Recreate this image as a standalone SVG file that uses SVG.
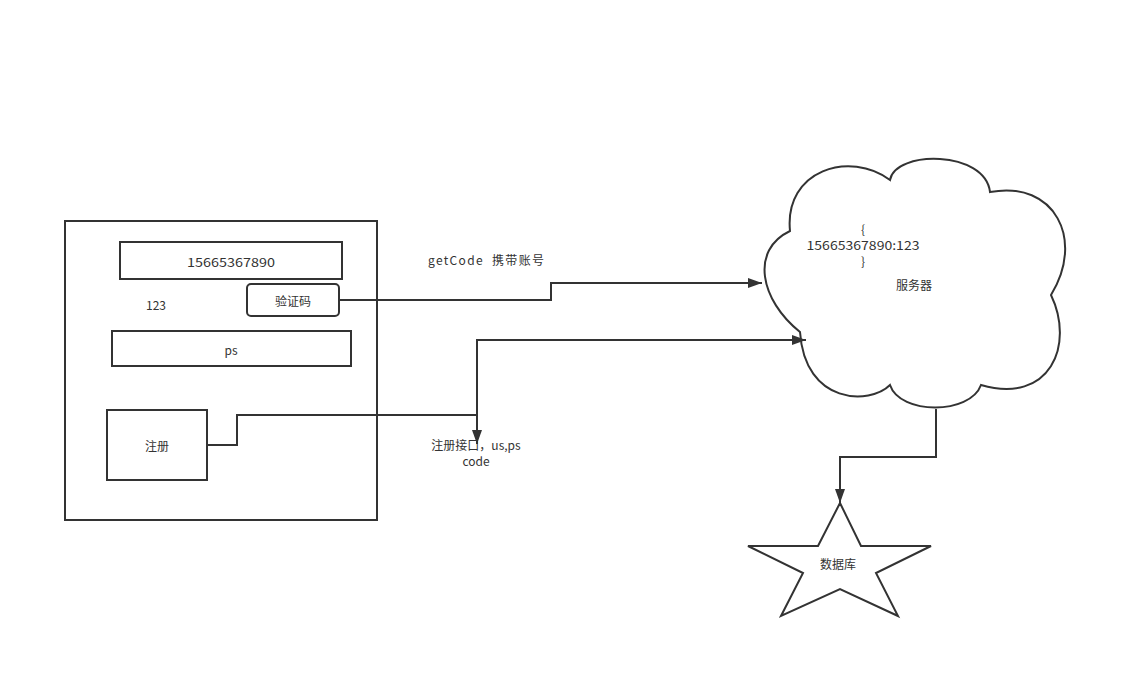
<svg xmlns="http://www.w3.org/2000/svg" width="1128" height="678" viewBox="0 0 1128 678">
<style>
.s{fill:#fff;stroke:#333;stroke-width:2}
.c{fill:none;stroke:#333;stroke-width:2}
text{font-family:"Noto Sans CJK SC","Liberation Sans",sans-serif;font-size:12px;fill:#333;text-anchor:middle;dominant-baseline:central}
</style>
<defs>
<marker id="ar" markerWidth="14" markerHeight="10" refX="14" refY="5" orient="auto" markerUnits="userSpaceOnUse">
<path d="M0,0 L14,5 L0,10 Z" fill="#333"/>
</marker>
</defs>
<rect width="1128" height="678" fill="#fff"/>
<g id="app">
<rect class="s" x="65" y="221" width="312" height="299"/>
</g>
<g id="phone">
<rect class="s" x="120" y="242" width="222" height="37"/>
<text x="231" y="261" textLength="88" lengthAdjust="spacingAndGlyphs">15665367890</text>
</g>
<g id="code-value"><text x="156" y="304">123</text></g>
<g id="btn-code">
<rect class="s" x="247" y="284" width="92" height="32" rx="4"/>
<text x="293" y="300">验证码</text>
</g>
<g id="pwd">
<rect class="s" x="112" y="331" width="239" height="35"/>
<text x="231" y="349">ps</text>
</g>
<g id="btn-reg">
<rect class="s" x="107" y="410" width="100" height="70"/>
<text x="157" y="445">注册</text>
</g>
<g id="server">
<path class="s" d="M790,231 C784,170 850,150 890,180 C895,150 985,150 990,192 C1055,180 1085,240 1051,295 C1075,345 1050,405 981,385 C970,415 900,415 890,385 C870,405 805,405 800,332 C760,300 750,250 790,231 Z"/>
<text x="863" y="228">{</text>
<text x="863" y="244" textLength="113" lengthAdjust="spacingAndGlyphs">15665367890:123</text>
<text x="863" y="260">}</text>
<text x="914" y="284">服务器</text>
</g>
<g id="db">
<polygon class="s" points="840,503 861,546 931,546 876,573 898,616 840,589 781,616 803,573 748,546 818,546"/>
<text x="838" y="563">数据库</text>
</g>
<g id="connectors">
<path class="c" d="M339,300 H551 V283 H762" marker-end="url(#ar)"/>
<path class="c" d="M207,445 H237 V415 H477 V444" marker-end="url(#ar)"/>
<path class="c" d="M477,430 V340 H806" marker-end="url(#ar)"/>
<path class="c" d="M936,409 V457 H840 V503" marker-end="url(#ar)"/>
</g>
<g id="labels">
<text x="486" y="259" textLength="116" lengthAdjust="spacing" style="white-space:pre">getCode  携带账号</text>
<text x="476" y="444">注册接口，us,ps</text>
<text x="476" y="460">code</text>
</g>
</svg>
